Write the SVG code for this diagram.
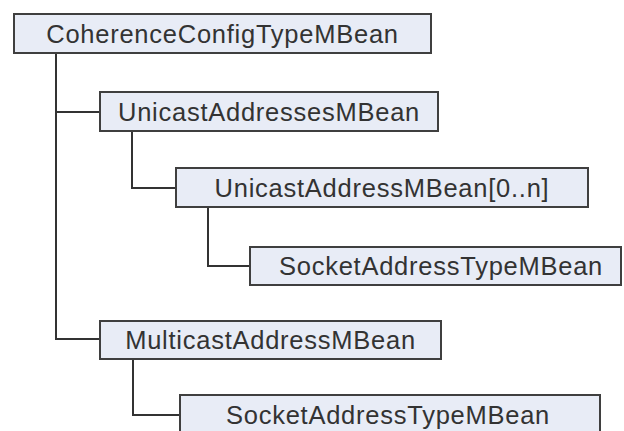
<svg xmlns="http://www.w3.org/2000/svg" width="624" height="431" viewBox="0 0 624 431">
  <style>
    .box { fill: #e8ecf6; stroke: #3f3f3f; stroke-width: 2; }
    .lbl { font-family: "Liberation Sans", Arial, sans-serif; font-size: 25.5px; letter-spacing: 0.75px; fill: #333333; text-anchor: middle; }
    .wire { fill: none; stroke: #333333; stroke-width: 2; }
  </style>
  <rect width="624" height="431" fill="#ffffff"/>

  <!-- tree connectors -->
  <g id="connectors">
    <path class="wire" d="M56,53 V339 H100"/>
    <path class="wire" d="M56,112 H100"/>
    <path class="wire" d="M132,131 V188 H176"/>
    <path class="wire" d="M208,207 V266 H250"/>
    <path class="wire" d="M133,359 V415 H180"/>
  </g>

  <g id="coherence-config">
    <rect class="box" x="14" y="14" width="417" height="39"/>
    <text class="lbl" x="222.5" y="42.5">CoherenceConfigTypeMBean</text>
  </g>

  <g id="unicast-addresses">
    <rect class="box" x="100" y="92" width="338" height="39"/>
    <text class="lbl" x="269" y="120.5">UnicastAddressesMBean</text>
  </g>

  <g id="unicast-address">
    <rect class="box" x="176" y="168" width="412" height="39"/>
    <text class="lbl" x="382" y="196.5">UnicastAddressMBean[0..n]</text>
  </g>

  <g id="unicast-socket-address">
    <rect class="box" x="250" y="247" width="371" height="38"/>
    <text class="lbl" x="441" y="275">SocketAddressTypeMBean</text>
  </g>

  <g id="multicast-address">
    <rect class="box" x="100" y="321" width="341" height="38"/>
    <text class="lbl" x="270.5" y="349">MulticastAddressMBean</text>
  </g>

  <g id="multicast-socket-address">
    <rect class="box" x="180" y="395" width="420" height="41"/>
    <text class="lbl" x="388" y="423.5">SocketAddressTypeMBean</text>
  </g>
</svg>
